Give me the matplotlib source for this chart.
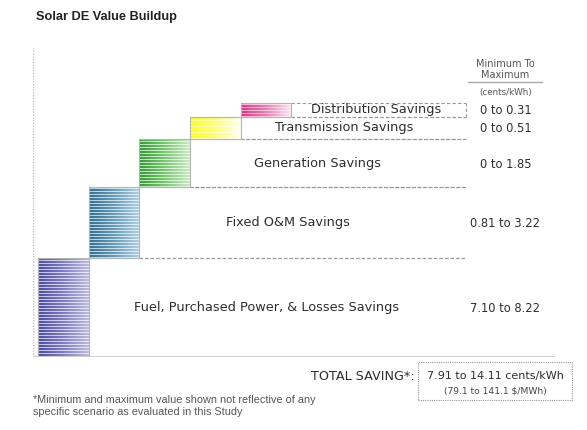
import numpy as np
import matplotlib
matplotlib.use('Agg')
import matplotlib.pyplot as plt
from matplotlib.colors import LinearSegmentedColormap

# savings components, bottom to top
labels = ['Fuel, Purchased Power, & Losses Savings', 'Fixed O&M Savings',
          'Generation Savings', 'Transmission Savings', 'Distribution Savings']
ranges = ['7.10 to 8.22', '0.81 to 3.22', '0 to 1.85', '0 to 0.51', '0 to 0.31']
# drawn heights of each step (schematic)
heights = [99, 71, 48, 22, 14]
dark = ['#3c3ca2', '#1f6288', '#229222', '#ffff00', '#ee1878']
mid = ['#7272c4', '#5a94b4', '#6cc264', '#ffff60', '#f670aa']
light = ['#b4b4e2', '#a8cee2', '#c4eabc', '#fffff0', '#ffe6f2']
label_dx = [-0.22, -0.3, -0.22, -0.18, -0.05]

W, H = 587, 430
fig = plt.figure(figsize=(W / 100, H / 100), dpi=100)
ax = fig.add_axes([33 / W, 1 - 357 / H, (555 - 33) / W, (357 - 48) / H])
ax.set_xlim(-0.1, 10.2)
ax.set_ylim(0, 309)
ax.axis('off')

box_right = 8.45
range_x = 9.22
label_font = 'DejaVu Sans'
bottoms = np.concatenate([[0], np.cumsum(heights)[:-1]])

for i, (lab, rng, h, b) in enumerate(zip(labels, ranges, heights, bottoms)):
    cmap = LinearSegmentedColormap.from_list('g%d' % i, [dark[i], mid[i], light[i]])
    grad = np.linspace(0, 1, 64).reshape(1, -1)
    ax.imshow(grad, cmap=cmap, extent=[i, i + 1, b, b + h], aspect='auto',
              interpolation='bilinear', zorder=2)
    # white stripes
    ys = np.arange(b + 1.5, b + h, 3)
    ax.hlines(ys, i, i + 1, colors='white', linewidth=0.9, alpha=0.7, zorder=3)
    ax.add_patch(plt.Rectangle((i, b), 1, h, fill=False, edgecolor='#b4b4b4',
                               linewidth=0.8, zorder=4))
    # dashed box to the right
    ax.plot([i + 1, box_right], [b + h, b + h], ls=(0, (3, 2)), color='#999999',
            lw=0.8, zorder=1)
    ax.plot([i + 1, box_right], [b, b], ls=(0, (3, 2)), color='#999999',
            lw=0.8, zorder=1)
    ax.text((i + 1 + box_right) / 2 + label_dx[i], b + h / 2, lab, ha='center',
            va='center', fontsize=9.3, color='#2e2e2e', family=label_font)
    ax.text(range_x, b + h / 2 - 1, rng, ha='center', va='center', fontsize=8.3,
            color='#2e2e2e', family=label_font)

ax.plot([box_right, box_right], [bottoms[-1], bottoms[-1] + heights[-1]],
        ls=(0, (3, 2)), color='#999999', lw=0.8)
ax.plot([-0.1, 10.2], [0, 0], color='#cccccc', lw=2, zorder=5)
ax.plot([-0.1, -0.1], [0, 309], ls=(0, (1, 1)), color='#bbbbbb', lw=1)

# header of range column
ax.text(range_x, 287.5, 'Minimum To\nMaximum', ha='center', va='center',
        fontsize=7, color='#555555', family=label_font, linespacing=1.15)
ax.plot([8.49, 9.95], [275, 275], color='#aaaaaa', lw=1)
ax.text(range_x, 265, '(cents/kWh)', ha='center', va='center', fontsize=6.3,
        color='#555555', family=label_font)

fig.text(36 / W, 1 - 17 / H, 'Solar DE Value Buildup', fontsize=9.2,
         fontweight='bold', family='Liberation Sans', va='center', color='#222222')

fig.text(415 / W, 1 - 376 / H, 'TOTAL SAVING*:', ha='right', va='center',
         fontsize=9.2, color='#2e2e2e', family=label_font)
fig.text(495 / W, 1 - 376 / H, '7.91 to 14.11 cents/kWh', ha='center', va='center',
         fontsize=8, color='#2e2e2e', family=label_font)
fig.text(495 / W, 1 - 391 / H, '(79.1 to 141.1 $/MWh)', ha='center', va='center',
         fontsize=6.6, color='#444444', family=label_font)
fig.patches.append(plt.Rectangle((418 / W, 1 - 400 / H), 154 / W, 38 / H,
                                 transform=fig.transFigure, fill=False,
                                 edgecolor='#999999', ls=(0, (1, 1)), lw=0.8))

fig.text(33 / W, 1 - 406 / H,
         '*Minimum and maximum value shown not reflective of any\n'
         'specific scenario as evaluated in this Study',
         fontsize=7.8, color='#555555', family='Liberation Sans', va='center',
         linespacing=1.25)

fig.savefig('out.png', dpi=100)
